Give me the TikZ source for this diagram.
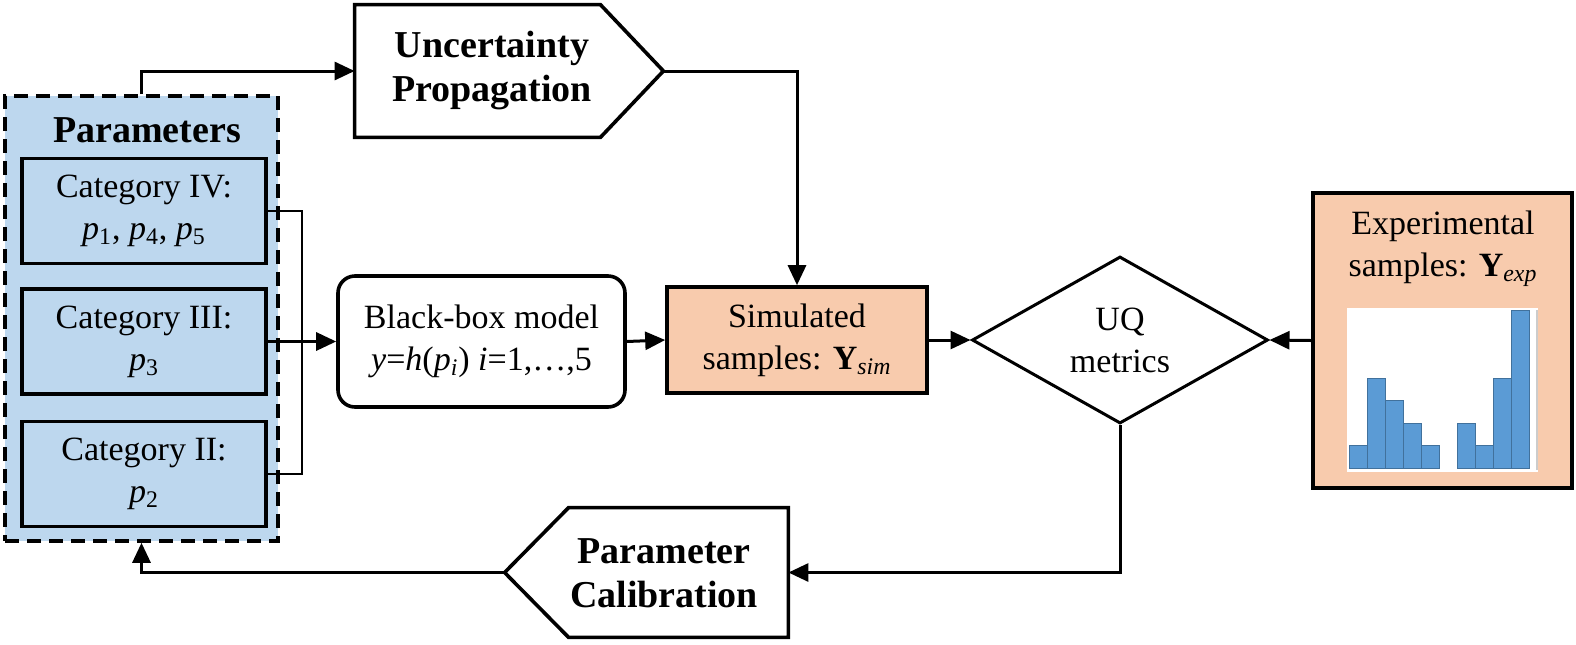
\documentclass[tikz,border=0pt]{standalone}
\usepackage{fontspec}
\setmainfont{Liberation Serif}
\usepackage{tikz}
\usetikzlibrary{calc}
\usetikzlibrary{arrows.meta}
\usetikzlibrary{shapes.geometric}
\definecolor{parblue}{HTML}{BDD7EE}
\definecolor{simpeach}{HTML}{F8CBAD}
\definecolor{barblue}{HTML}{5B9BD5}
\definecolor{baredge}{HTML}{41719C}
\newcommand{\pvar}[1]{\textit{p}\textsubscript{#1}}
\tikzset{%
  myedge/.style={-{Triangle[length=10pt,width=9pt]}, line width=1.5pt},
  mybox/.style={draw=black, line width=1.8pt, align=center, inner sep=0pt,
    font=\fontsize{17}{21}\selectfont},
  catbox/.style={mybox, fill=parblue, minimum width=122pt, minimum height=52.5pt},
  boldtext/.style={align=center, inner sep=0pt, font=\fontsize{19}{22}\selectfont\bfseries},
  bar/.style={fill=barblue, draw=baredge, line width=0.4pt}
}

\begin{document}
\begin{tikzpicture}[x=0.5pt, y=-0.5pt]
  \useasboundingbox (0,0) rectangle (1576,644);

% parameters
\node [draw=black, fill=parblue, line width=1.8pt, dash pattern=on 7pt off 4pt,
  minimum width=136.5pt, minimum height=222.5pt, inner sep=0pt] (params) at (141.5,318.5) {};
\node [boldtext] (ptitle) at (147,130) {Parameters};

\node [catbox] (cat4) at (144,211) {Category IV:\\ \pvar{1}, \pvar{4}, \pvar{5}};
\node [catbox] (cat3) at (144,341.5) {Category III:\\ \pvar{3}};
\node [catbox] (cat2) at (144,474) {Category II:\\ \pvar{2}};

% model and samples
\node [mybox, rounded corners=8.5pt, minimum width=143.5pt, minimum height=65.5pt] (bbox) at (481.5,341.5)
  {Black-box model\\ \textit{y}=\textit{h}(\pvar{\textit{i}}) \textit{i}=1,\ldots,5};
\node [mybox, fill=simpeach, minimum width=130pt, minimum height=53pt] (sim) at (797,340)
  {Simulated\\ samples: \textbf{Y}\textsubscript{\textit{sim}}};
\node [mybox, diamond, shape aspect=1.77, line width=1.5pt, minimum width=148pt, minimum height=83.5pt] (uq) at (1120,340)
  {UQ\\ metrics};
\node [mybox, fill=simpeach, minimum width=129.5pt, minimum height=147.5pt] (exp) at (1442.5,340.5) {};
\node [align=center, inner sep=0pt, font=\fontsize{17}{21}\selectfont] (exptext) at (1443,249)
  {Experimental\\ samples: \textbf{Y}\textsubscript{\textit{exp}}};

% histogram
\fill [white] (1347,308) rectangle (1538,472);
\draw [gray!40, line width=0.6pt] (1537,310) -- (1537,470);
\foreach \k / \h in {0/1, 1/4, 2/3, 3/2, 4/1, 6/2, 7/1, 8/4, 9/7} {
  \draw [bar] ({1349+18*\k},468) rectangle ++(18,{-22.5*\h});
}

% pentagons
\node [minimum width=122.5pt, minimum height=66pt, inner sep=0pt] (up) at (477.5,71) {};
\coordinate (uptip) at ($(up.east)+(63,0)$);
\draw [line width=1.8pt] (up.north west) -- (up.north east) -- (uptip) -- (up.south east) -- (up.south west) -- cycle;
\node [boldtext] (uptext) at (492,71) {Uncertainty\\ Propagation};

\node [minimum width=109.5pt, minimum height=64.5pt, inner sep=0pt] (pc) at (678.5,572.5) {};
\coordinate (pctip) at ($(pc.west)+(-64,0)$);
\draw [line width=1.8pt] (pc.north east) -- (pc.north west) -- (pctip) -- (pc.south west) -- (pc.south east) -- cycle;
\node [boldtext] (pctext) at (664,573) {Parameter\\ Calibration};

% edges
\coordinate (brk) at (302,341.5);
\draw [line width=1.1pt] (cat4.east) -| (brk) |- (cat2.east);
\draw [myedge] (cat3.east) -- (bbox.west);
\draw [myedge] (bbox.east) -- (sim.west);
\draw [myedge] (sim.east) -- (uq.west);
\draw [myedge] (exp.west) -- (uq.east);
\draw [myedge] (params.north) |- (up.west);
\draw [myedge] (uptip) -| (sim.north);
\draw [myedge] (uq.south) |- (pc.east);
\draw [myedge] (pctip) -| (params.south);

\end{tikzpicture}
\end{document}
